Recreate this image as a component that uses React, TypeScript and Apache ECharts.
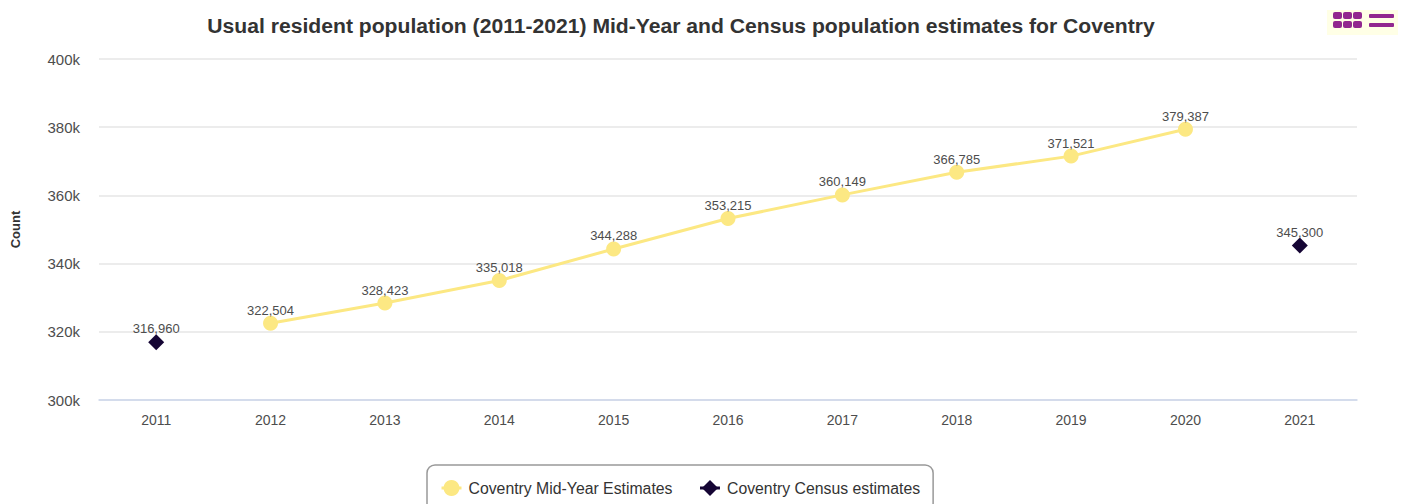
import React, { useEffect, useRef } from "react";
import * as echarts from "echarts";

const FONT = '"Liberation Sans", Arial, sans-serif';
const categories = ["2011", "2012", "2013", "2014", "2015", "2016", "2017", "2018", "2019", "2020", "2021"];
const midYear = [null, 322504, 328423, 335018, 344288, 353215, 360149, 366785, 371521, 379387, null];
const census = [316960, null, null, null, null, null, null, null, null, null, 345300];
const midYearName = "Coventry Mid-Year Estimates";
const censusName = "Coventry Census estimates";
const titleText = "Usual resident population (2011-2021) Mid-Year and Census population estimates for Coventry";
const PURPLE = "#92278f";
const YELLOW = "#fce883";

const squareXs = [1333, 1343, 1353];
const squareYs = [12, 21];
const barYs = [14, 23];

export default function App() {
  const ref = useRef<HTMLDivElement>(null);
  useEffect(() => {
    document.body.style.margin = "0";
    const chart = echarts.init(ref.current!, undefined, { renderer: "svg" });
    const labelFmt = (p: any) => Number(p.value).toLocaleString("en-US");
    const iconRects: any[] = [
      { type: "rect", shape: { x: 1327, y: 10, width: 71, height: 25 }, style: { fill: "#ffffe6" } },
    ];
    squareXs.forEach((x) =>
      squareYs.forEach((y) =>
        iconRects.push({ type: "rect", shape: { x, y, width: 9, height: 7, r: 2 }, style: { fill: PURPLE } })
      )
    );
    barYs.forEach((y) =>
      iconRects.push({ type: "rect", shape: { x: 1369, y, width: 25, height: 4, r: 1 }, style: { fill: PURPLE } })
    );
    chart.setOption({
      animation: false,
      title: {
        text: titleText,
        left: 676,
        top: 10,
        textAlign: "center",
        textStyle: { fontFamily: FONT, fontSize: 21.13, fontWeight: "bold", color: "#333333" },
      },
      grid: { left: 99, right: 45, top: 59, bottom: 104 },
      legend: {
        left: 427,
        top: 465,
        padding: [15, 13, 15, 13],
        itemGap: 26,
        itemWidth: 20,
        itemHeight: 20,
        borderColor: "#999999",
        borderWidth: 1.5,
        borderRadius: 8,
        textStyle: { fontFamily: FONT, fontSize: 15.8, color: "#333333", padding: [0, 0, 0, 2] },
        data: [
          { name: midYearName, lineStyle: { width: 3, color: YELLOW } },
          { name: censusName, lineStyle: { width: 3, color: "#150534" } },
        ],
      },
      xAxis: {
        type: "category",
        data: categories,
        axisTick: { show: false },
        axisLine: { lineStyle: { color: "#ccd6eb", width: 1.5 } },
        axisLabel: { fontFamily: FONT, fontSize: 14, color: "#4d4d4d", margin: 12.5 },
      },
      yAxis: {
        type: "value",
        min: 300000,
        max: 400000,
        interval: 20000,
        name: "Count",
        nameLocation: "middle",
        nameGap: 77,
        nameTextStyle: { fontFamily: FONT, fontSize: 13, fontWeight: "bold", color: "#333333" },
        axisLine: { show: false },
        axisTick: { show: false },
        axisLabel: {
          fontFamily: FONT,
          fontSize: 15,
          color: "#4d4d4d",
          margin: 19,
          formatter: (v: number) => `${v / 1000}k`,
        },
        splitLine: { lineStyle: { color: "#e6e6e6", width: 1.5 } },
      },
      series: [
        {
          name: midYearName,
          type: "line",
          data: midYear,
          symbol: "circle",
          symbolSize: 15,
          connectNulls: false,
          itemStyle: { color: YELLOW },
          lineStyle: { color: YELLOW, width: 3 },
          label: {
            show: true,
            position: "top",
            distance: -1,
            fontFamily: FONT,
            fontSize: 13,
            color: "#4d4d4d",
            formatter: labelFmt,
          },
        },
        {
          name: censusName,
          type: "line",
          data: census,
          symbol: "diamond",
          symbolSize: 16,
          itemStyle: { color: "#150534" },
          lineStyle: { width: 0, color: "#150534" },
          label: {
            show: true,
            position: "top",
            distance: -1,
            fontFamily: FONT,
            fontSize: 13,
            color: "#4d4d4d",
            formatter: labelFmt,
          },
        },
      ],
      graphic: iconRects,
    });
    return () => chart.dispose();
  }, []);
  return <div ref={ref} style={{ width: 1402, height: 504 }} />;
}
